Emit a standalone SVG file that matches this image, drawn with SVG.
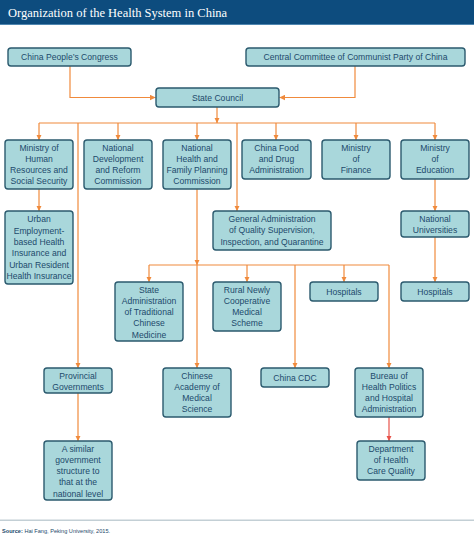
<svg xmlns="http://www.w3.org/2000/svg" width="474" height="554" viewBox="0 0 474 554">
<defs>
<marker id="arr" markerUnits="userSpaceOnUse" markerWidth="6" markerHeight="6" viewBox="0 0 6 6" refX="5.5" refY="3" orient="auto">
<path d="M0,0.3 L5.8,3 L0,5.7 Z" fill="#f08a3c"/>
</marker>
<marker id="arrR" markerUnits="userSpaceOnUse" markerWidth="6" markerHeight="6" viewBox="0 0 6 6" refX="5.5" refY="3" orient="auto">
<path d="M0,0.3 L5.8,3 L0,5.7 Z" fill="#e8524a"/>
</marker>
</defs>
<style>
.box{fill:#a9d7db;stroke:#2b5a6e;stroke-width:1.4}
.t{font-family:"Liberation Sans",Arial,sans-serif;font-size:8.6px;fill:#1d4a6b;text-anchor:middle}
.c{fill:none;stroke:#f08a3c;stroke-width:1.2}
.a{marker-end:url(#arr)}
</style>
<rect x="0" y="0" width="474" height="25" fill="#0d4c7e"/>
<rect x="0" y="24" width="474" height="1" fill="#4f86b0"/>
<text x="8" y="17" font-family="Liberation Serif,'Times New Roman',serif" font-size="12.5" fill="#ffffff">Organization of the Health System in China</text>

<g id="connectors">
<path class="c a" d="M70,66 V97.5 H155.5"/>
<path class="c a" d="M355,66 V97.5 H279.5"/>
<path class="c a" d="M217,107 V123"/>
<path class="c" d="M39,123 H435"/>
<path class="c a" d="M39,123 V140"/>
<path class="c a" d="M118,123 V140"/>
<path class="c a" d="M197,123 V140"/>
<path class="c a" d="M276,123 V140"/>
<path class="c a" d="M356,123 V140"/>
<path class="c a" d="M435,123 V140"/>
<path class="c a" d="M78,123 V368"/>
<path class="c a" d="M237,123 V211"/>
<path class="c a" d="M39,189 V211"/>
<path class="c a" d="M435,179 V211"/>
<path class="c a" d="M435,237 V282"/>
<path class="c a" d="M197,189 V265"/>
<path class="c a" d="M197,265 V368"/>
<path class="c" d="M149,265 H389"/>
<path class="c a" d="M149,265 V282"/>
<path class="c a" d="M247,265 V282"/>
<path class="c a" d="M344,265 V282"/>
<path class="c a" d="M295,265 V368"/>
<path class="c a" d="M389,265 V368"/>
<path class="c a" d="M78,393 V441"/>
<path d="M389,417 V441" fill="none" stroke="#e8524a" stroke-width="1.2" marker-end="url(#arrR)"/>
</g>

<g id="cpc"><rect class="box" x="8" y="48" width="123" height="18" rx="3"/><text class="t" x="69.5" y="60">China People’s Congress</text></g>
<g id="ccp"><rect class="box" x="246" y="48" width="219" height="18" rx="3"/><text class="t" x="355.5" y="60">Central Committee of Communist Party of China</text></g>
<g id="sc"><rect class="box" x="156" y="88" width="123" height="19" rx="3"/><text class="t" x="217.5" y="100.5">State Council</text></g>

<g id="mhrss"><rect class="box" x="5" y="140" width="68" height="49" rx="3"/><text class="t"><tspan x="39" y="150.5">Ministry of</tspan><tspan x="39" y="161.8">Human</tspan><tspan x="39" y="173.1">Resources and</tspan><tspan x="39" y="184.4">Social Security</tspan></text></g>
<g id="ndrc"><rect class="box" x="84" y="140" width="68" height="49" rx="3"/><text class="t"><tspan x="118" y="150.5">National</tspan><tspan x="118" y="161.8">Development</tspan><tspan x="118" y="173.1">and Reform</tspan><tspan x="118" y="184.4">Commission</tspan></text></g>
<g id="nhfpc"><rect class="box" x="163" y="140" width="68" height="49" rx="3"/><text class="t"><tspan x="197" y="150.5">National</tspan><tspan x="197" y="161.8">Health and</tspan><tspan x="197" y="173.1">Family Planning</tspan><tspan x="197" y="184.4">Commission</tspan></text></g>
<g id="cfda"><rect class="box" x="242" y="140" width="69" height="39" rx="3"/><text class="t"><tspan x="276.5" y="150.5">China Food</tspan><tspan x="276.5" y="161.8">and Drug</tspan><tspan x="276.5" y="173.1">Administration</tspan></text></g>
<g id="mof"><rect class="box" x="322" y="140" width="68" height="39" rx="3"/><text class="t"><tspan x="356" y="150.5">Ministry</tspan><tspan x="356" y="161.8">of</tspan><tspan x="356" y="173.1">Finance</tspan></text></g>
<g id="moe"><rect class="box" x="401" y="140" width="68" height="39" rx="3"/><text class="t"><tspan x="435" y="150.5">Ministry</tspan><tspan x="435" y="161.8">of</tspan><tspan x="435" y="173.1">Education</tspan></text></g>

<g id="urban"><rect class="box" x="5" y="211" width="68" height="73" rx="3"/><text class="t"><tspan x="39" y="222.3">Urban</tspan><tspan x="39" y="233.6">Employment-</tspan><tspan x="39" y="244.9">based Health</tspan><tspan x="39" y="256.2">Insurance and</tspan><tspan x="39" y="267.5">Urban Resident</tspan><tspan x="39" y="278.8">Health Insurance</tspan></text></g>
<g id="aqsiq"><rect class="box" x="213" y="211" width="118" height="39" rx="3"/><text class="t"><tspan x="272" y="222">General Administration</tspan><tspan x="272" y="233.3">of Quality Supervision,</tspan><tspan x="272" y="244.6">Inspection, and Quarantine</tspan></text></g>
<g id="univ"><rect class="box" x="401" y="211" width="68" height="26" rx="3"/><text class="t"><tspan x="435" y="221.5">National</tspan><tspan x="435" y="232.8">Universities</tspan></text></g>

<g id="satcm"><rect class="box" x="115" y="282" width="68" height="59" rx="3"/><text class="t"><tspan x="149" y="292.5">State</tspan><tspan x="149" y="303.8">Administration</tspan><tspan x="149" y="315.1">of Traditional</tspan><tspan x="149" y="326.4">Chinese</tspan><tspan x="149" y="337.7">Medicine</tspan></text></g>
<g id="rncms"><rect class="box" x="213" y="282" width="68" height="49" rx="3"/><text class="t"><tspan x="247" y="292.5">Rural Newly</tspan><tspan x="247" y="303.8">Cooperative</tspan><tspan x="247" y="315.1">Medical</tspan><tspan x="247" y="326.4">Scheme</tspan></text></g>
<g id="hosp1"><rect class="box" x="310" y="282" width="68" height="19" rx="3"/><text class="t" x="344" y="294.5">Hospitals</text></g>
<g id="hosp2"><rect class="box" x="401" y="282" width="68" height="19" rx="3"/><text class="t" x="435" y="294.5">Hospitals</text></g>

<g id="prov"><rect class="box" x="44" y="368" width="68" height="25" rx="3"/><text class="t"><tspan x="78" y="378.5">Provincial</tspan><tspan x="78" y="389.8">Governments</tspan></text></g>
<g id="cams"><rect class="box" x="163" y="368" width="68" height="49" rx="3"/><text class="t"><tspan x="197" y="378.5">Chinese</tspan><tspan x="197" y="389.8">Academy of</tspan><tspan x="197" y="401.1">Medical</tspan><tspan x="197" y="412.4">Science</tspan></text></g>
<g id="cdc"><rect class="box" x="261" y="368" width="68" height="19" rx="3"/><text class="t" x="295" y="380.5">China CDC</text></g>
<g id="bureau"><rect class="box" x="355" y="368" width="68" height="49" rx="3"/><text class="t"><tspan x="389" y="378.5">Bureau of</tspan><tspan x="389" y="389.8">Health Politics</tspan><tspan x="389" y="401.1">and Hospital</tspan><tspan x="389" y="412.4">Administration</tspan></text></g>

<g id="similar"><rect class="box" x="44" y="441" width="68" height="59" rx="3"/><text class="t"><tspan x="78" y="451.5">A similar</tspan><tspan x="78" y="462.8">government</tspan><tspan x="78" y="474.1">structure to</tspan><tspan x="78" y="485.4">that at the</tspan><tspan x="78" y="496.7">national level</tspan></text></g>
<g id="dhcq"><rect class="box" x="357" y="441" width="68" height="39" rx="3"/><text class="t"><tspan x="391" y="451.5">Department</tspan><tspan x="391" y="462.8">of Health</tspan><tspan x="391" y="474.1">Care Quality</tspan></text></g>

<rect x="0" y="519.5" width="474" height="1.5" fill="#c3cfd5"/>
<text x="2" y="532.5" font-family="'Liberation Sans',Arial,sans-serif" font-size="5.6" fill="#1d4a6b"><tspan font-weight="bold">Source:</tspan> Hai Fang, Peking University, 2015.</text>
</svg>
